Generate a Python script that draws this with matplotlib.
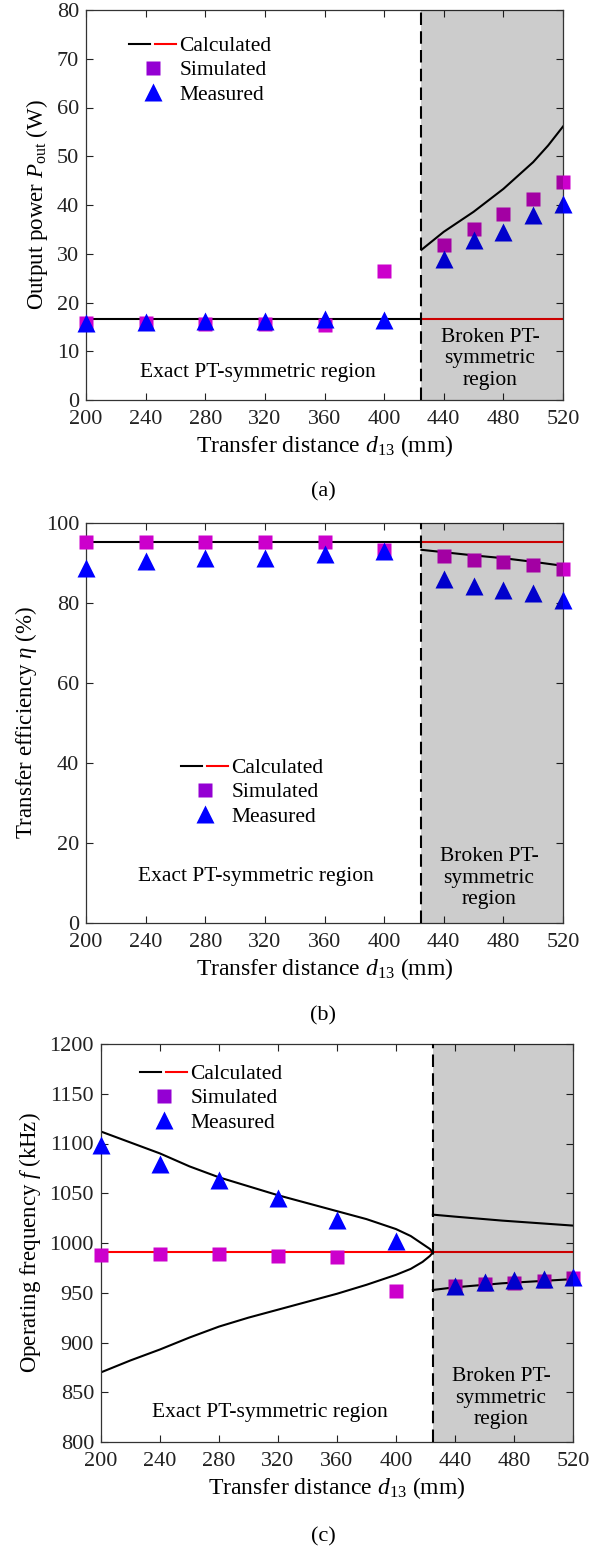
import numpy as np
import matplotlib
matplotlib.use("Agg")
import matplotlib.pyplot as plt
from matplotlib.lines import Line2D
from matplotlib.legend_handler import HandlerTuple

plt.rcParams['font.family'] = ['Liberation Serif', 'DejaVu Serif']
plt.rcParams['mathtext.fontset'] = 'custom'
plt.rcParams['mathtext.rm'] = 'Liberation Serif'
plt.rcParams['mathtext.it'] = 'Liberation Serif:italic'
plt.rcParams['font.size'] = 15.5

# distances (mm)
d = [200, 240, 280, 320, 360, 400, 440, 460, 480, 500, 520]
d_ep = 425  # exceptional point

# (a) output power (W)
p_calc_flat = 16.6
p_curve_x = [425, 440, 460, 480, 500, 510, 520]
p_curve_y = [30.8, 34.5, 38.6, 43.3, 48.8, 52.2, 56.1]
p_sim = [15.7, 15.7, 15.6, 15.6, 15.4, 26.4, 31.7, 35.1, 38.2, 41.2, 44.8]
p_meas = [15.8, 16.0, 16.2, 16.2, 16.7, 16.5, 29.0, 32.8, 34.5, 38.0, 40.2]

# (b) efficiency (%)
eta_calc_flat = 95.3
eta_curve_x = [425, 440, 460, 480, 500, 520]
eta_curve_y = [93.3, 92.7, 91.9, 91.2, 90.3, 89.3]
eta_sim = [95.2, 95.2, 95.3, 95.2, 95.2, 93.3, 91.8, 90.8, 90.3, 89.6, 88.5]
eta_meas = [88.8, 90.6, 91.3, 91.2, 92.2, 93.0, 86.0, 84.3, 83.3, 82.4, 80.7]

# (c) frequency (kHz)
f_calc_flat = 990.5
f_ex_x = [200, 220, 240, 260, 280, 300, 320, 340, 360, 380, 400, 410, 418, 423, 425]
f_up_y = [1112, 1101, 1090, 1077, 1066, 1057, 1048, 1040, 1032, 1024, 1014,
          1007, 999, 994, 990.5]
f_lo_y = [870, 882, 893, 905, 916, 925, 933, 941, 949, 958, 968,
          974, 981, 987, 990.5]
f_br_x = [425, 440, 472, 520]
f_bu_y = [1028.5, 1026.5, 1022.5, 1017.5]
f_bl_y = [952.8, 955.5, 959.5, 963.7]
f_sim = [988.3, 989, 989, 987.3, 986.3, 951.3, 957, 958.5, 960, 961.8, 965]
f_meas = [1098.2, 1079, 1063.5, 1045.5, 1023.2, 1002.3, 957, 961, 962.6, 964.2, 965.8]

sim_color = '#cc00cc'
meas_color = '#0000ff'

fig = plt.figure(figsize=(5.96, 15.48), dpi=100)
W, H = 596, 1548


def box(l, r, t, b):
    return [l / W, 1 - b / H, (r - l) / W, (b - t) / H]


def fp(x, y):
    return (x / W, 1 - y / H)


def lp(rect, x, y):
    l, b, w, h = rect
    return ((x / W - l) / w, ((1 - y / H) - b) / h)


def panel(rect, flat, curves, flat_full, sim, meas, ylim, yticks, ylabel,
          leg_xy, exact_xy, broken_xy, caption, caption_y):
    ax = fig.add_axes(rect)
    ax.set_xlim(200, 520)
    ax.set_ylim(*ylim)
    ax.set_xticks(np.arange(200, 521, 40))
    ax.set_yticks(yticks)
    ax.tick_params(direction='in', top=True, right=True, length=5,
                   width=0.8, labelsize=16, colors='#222222')
    ax.tick_params(axis='x', pad=7)
    ax.tick_params(axis='y', pad=5)
    for s in ax.spines.values():
        s.set_linewidth(0.9)
        s.set_color('#333333')

    # calculated
    if flat_full:
        ax.plot([200, 520], [flat, flat], color='#ff0000', lw=1.5, zorder=2)
    else:
        ax.plot([200, d_ep], [flat, flat], color='k', lw=1.5, zorder=2)
        ax.plot([d_ep, 520], [flat, flat], color='#ff0000', lw=1.5, zorder=2)
    for cx, cy in curves:
        ax.plot(cx, cy, color='k', lw=1.5, zorder=2)

    ax.plot(d, sim, 's', color=sim_color, ms=9.5, mec='none', zorder=3,
            clip_on=False)
    ax.plot(d, meas, '^', color=meas_color, ms=13, mec='none', zorder=3.5,
            clip_on=False)

    # broken region shading, laid over the markers so they get darker
    ax.axvspan(d_ep, 520, color='k', alpha=0.2, lw=0, zorder=4)
    ax.axvline(d_ep, color='k', lw=1.5, ls=(0, (6, 3)), zorder=5)

    ax.set_xlabel(r'Transfer distance $d_{\rm 13}$ (mm)', fontsize=17,
                  labelpad=3)
    ax.set_ylabel(ylabel, fontsize=16.5, labelpad=5)

    h_calc = (Line2D([], [], color='k', lw=1.5),
              Line2D([], [], color='#ff0000', lw=1.5))
    h_sim = Line2D([], [], marker='s', ls='none', color='#9400d3', ms=10,
                   mec='none')
    h_meas = Line2D([], [], marker='^', ls='none', color=meas_color, ms=13,
                    mec='none')
    ax.legend([h_calc, h_sim, h_meas], ['Calculated', 'Simulated', 'Measured'],
              handler_map={tuple: HandlerTuple(ndivide=None, pad=0.25)},
              loc='upper left', bbox_to_anchor=leg_xy, frameon=False,
              fontsize=15.5, handlelength=2.2, handletextpad=0.15,
              labelspacing=0.2, borderpad=0, borderaxespad=0)

    fig.text(*exact_xy, 'Exact PT-symmetric region', fontsize=15.5,
             ha='center', va='center', zorder=6)
    fig.text(*broken_xy, 'Broken PT-\nsymmetric\nregion', fontsize=15.5,
             ha='center', va='center', linespacing=1.15, zorder=6)
    fig.text(323 / W, 1 - caption_y / H, caption, fontsize=16,
             ha='center', va='center')
    return ax


ra = box(86, 563, 10, 400)
panel(ra, p_calc_flat, [(p_curve_x, p_curve_y)], False, p_sim, p_meas,
      (0, 80), np.arange(0, 81, 10), r'Output power $P_{\rm out}$ (W)',
      lp(ra, 129, 36), fp(258, 373), fp(490, 359), '(a)', 492)

rb = box(86, 563, 523, 923)
panel(rb, eta_calc_flat, [(eta_curve_x, eta_curve_y)], False, eta_sim, eta_meas,
      (0, 100), np.arange(0, 101, 20), r'Transfer efficiency $\eta$ (%)',
      lp(rb, 181, 758), fp(256, 877), fp(489, 878), '(b)', 1016)

rc = box(101, 573, 1044, 1442)
panel(rc, f_calc_flat, [(f_ex_x, f_up_y), (f_ex_x, f_lo_y),
                        (f_br_x, f_bu_y), (f_br_x, f_bl_y)], True, f_sim, f_meas,
      (800, 1200), np.arange(800, 1201, 50), r'Operating frequency $f$ (kHz)',
      lp(rc, 140, 1064), fp(270, 1413), fp(501, 1398), '(c)', 1537)

fig.savefig('out.png', dpi=100)
